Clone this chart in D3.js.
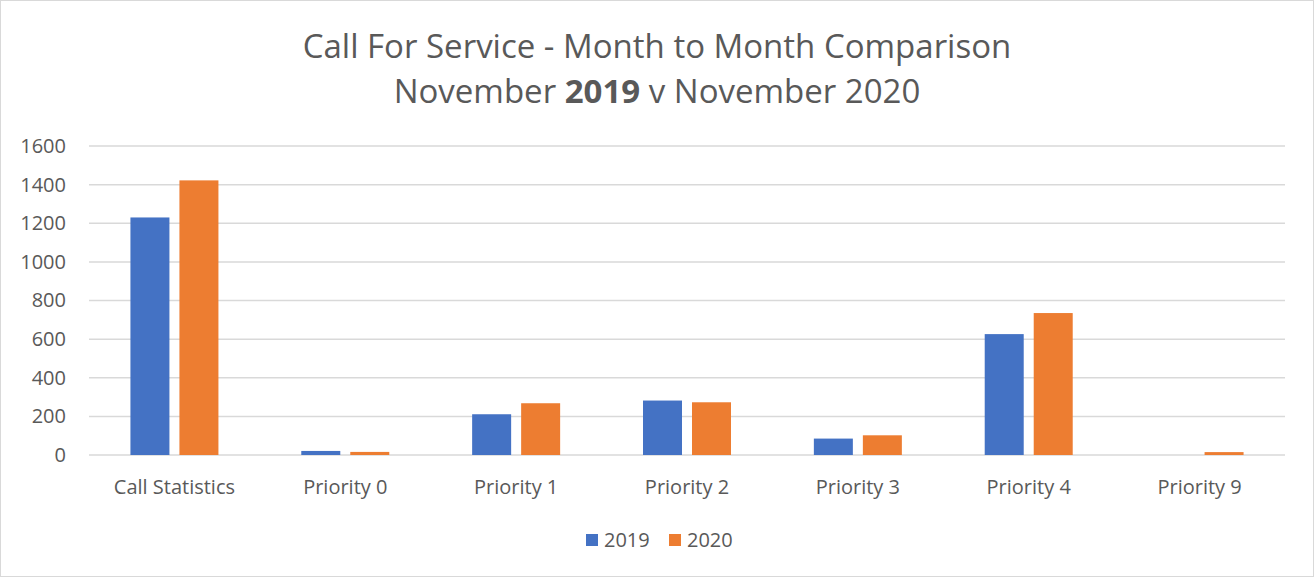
<!DOCTYPE html>
<html>
<head>
<meta charset="utf-8">
<script src="https://cdn.jsdelivr.net/npm/d3@7"></script>
<style>
  body { margin: 0; background: #fff; }
  svg { display: block; }
  svg text { font-family: "Open Sans", "Noto Sans", sans-serif; }
</style>
</head>
<body>
<svg id="chart" width="1314" height="577"></svg>
<script>
// chart data
const categories = ["Call Statistics", "Priority 0", "Priority 1", "Priority 2", "Priority 3", "Priority 4", "Priority 9"];
const seriesNames = ["2019", "2020"];
const values2019 = [1230, 21, 211, 282, 85, 626, 0];
const values2020 = [1422, 16, 268, 273, 102, 735, 15];
const yTicks = [0, 200, 400, 600, 800, 1000, 1200, 1400, 1600];
const colors = ["#4472C4", "#ED7D31"];

const width = 1314, height = 577;
const margin = { top: 146, right: 29, bottom: 122, left: 89 };
const plotW = width - margin.left - margin.right;
const plotH = height - margin.top - margin.bottom;
const labelSize = "20px";

const svg = d3.select("#chart");

// outer border
svg.append("rect")
  .attr("x", 0.5).attr("y", 0.5)
  .attr("width", width - 1).attr("height", height - 1)
  .attr("fill", "#fff").attr("stroke", "#d9d9d9");

// title
const title = svg.append("text")
  .attr("text-anchor", "middle")
  .attr("fill", "#595959")
  .style("font-size", "33px");
title.append("tspan").attr("x", 657).attr("y", 58)
  .text("Call For Service - Month to Month Comparison");
const line2 = title.append("tspan").attr("x", 657).attr("y", 103);
line2.append("tspan").text("November ");
line2.append("tspan").attr("font-weight", "bold").text("2019");
line2.append("tspan").text(" v November 2020");

const g = svg.append("g").attr("transform", `translate(${margin.left},${margin.top})`);

// scales
const x = d3.scaleBand().domain(categories).range([0, plotW]);
const y = d3.scaleLinear().domain([0, 1600]).range([plotH, 0]);

// gridlines
g.selectAll(".grid")
  .data(yTicks)
  .enter()
  .append("line")
  .attr("x1", 0).attr("x2", plotW)
  .attr("y1", (d) => y(d)).attr("y2", (d) => y(d))
  .attr("stroke", "#d9d9d9")
  .attr("stroke-width", 1.5);

// y axis labels
const yAxis = d3.axisLeft(y).tickValues(yTicks).tickFormat(d3.format("d")).tickSize(0).tickPadding(23);
g.append("g").call(yAxis)
  .call((a) => a.select(".domain").remove())
  .selectAll("text")
  .attr("fill", "#595959")
  .style("font-size", labelSize);

// x axis labels
const xAxis = d3.axisBottom(x).tickSize(0).tickPadding(25);
g.append("g").attr("transform", `translate(0,${plotH})`).call(xAxis)
  .call((a) => a.select(".domain").remove())
  .selectAll("text")
  .attr("fill", "#595959")
  .style("font-size", labelSize);

// bars
const barW = 39, innerGap = 10;
const rows = categories.map((c, i) => ({ cat: c, vals: [values2019[i], values2020[i]] }));
const grp = g.selectAll(".cat")
  .data(rows)
  .enter()
  .append("g")
  .attr("transform", (d) => `translate(${x(d.cat) + x.bandwidth() / 2},0)`);

grp.selectAll("rect")
  .data((d) => d.vals.map((v, k) => ({ v, k })))
  .enter()
  .append("rect")
  .attr("x", (d) => (d.k === 0 ? -barW - innerGap / 2 : innerGap / 2))
  .attr("y", (d) => y(d.v))
  .attr("width", barW)
  .attr("height", (d) => plotH - y(d.v))
  .attr("fill", (d) => colors[d.k]);

// legend
const legend = svg.append("g").attr("transform", "translate(586,540)");
const items = [
  { name: seriesNames[0], x: 0, c: colors[0] },
  { name: seriesNames[1], x: 83, c: colors[1] }
];
const li = legend.selectAll("g").data(items).enter().append("g")
  .attr("transform", (d) => `translate(${d.x},0)`);
li.append("rect").attr("x", 0).attr("y", -6).attr("width", 12).attr("height", 12)
  .attr("fill", (d) => d.c);
li.append("text").attr("x", 18).attr("y", 0).attr("dy", "0.35em")
  .attr("fill", "#595959").style("font-size", labelSize)
  .text((d) => d.name);
</script>
</body>
</html>
